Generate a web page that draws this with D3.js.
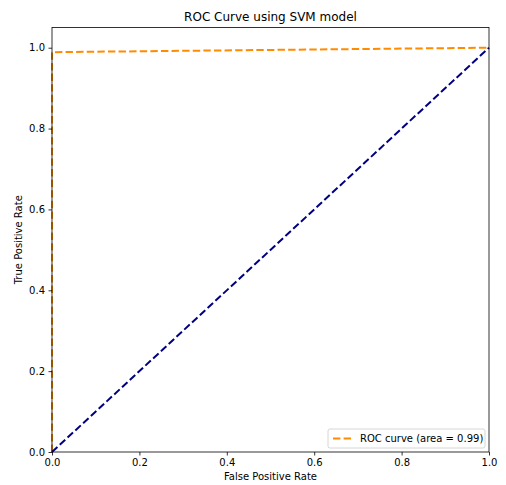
<!DOCTYPE html>
<html><head><meta charset="utf-8">
<script src="https://cdn.jsdelivr.net/npm/d3@7"></script>
<style>body{margin:0;background:#fff;} svg{display:block;font-family:"DejaVu Sans",sans-serif;}</style>
</head><body>
<script>
const fpr = [0, 0, 1];
const tpr = [0, 0.989, 1];
const diagX = [0, 1];
const diagY = [0, 1];
const ticks = [0, 0.2, 0.4, 0.6, 0.8, 1.0];
const aucLabel = "ROC curve (area = 0.99)";

const W = 506, H = 485;
const m = {l: 52, r: 17, t: 27.5, b: 33};
const svg = d3.select("body").append("svg").attr("width", W).attr("height", H);
const x = d3.scaleLinear().domain([0, 1]).range([m.l, W - m.r]);
const y = d3.scaleLinear().domain([0, 1.05]).range([H - m.b, m.t]);

const line = d3.line().x(d => x(d[0])).y(d => y(d[1]));
svg.append("path").datum(fpr.map((v, i) => [v, tpr[i]]))
  .attr("d", line).attr("fill", "none").attr("stroke", "#ff8c00")
  .attr("stroke-width", 2).attr("stroke-dasharray", "7.4,3.2");
svg.append("path").datum(diagX.map((v, i) => [v, diagY[i]]))
  .attr("d", line).attr("fill", "none").attr("stroke", "#000080")
  .attr("stroke-width", 2).attr("stroke-dasharray", "7.4,3.2");

const fmt = d3.format(".1f");
const xa = svg.append("g").attr("transform", `translate(0,${H - m.b})`)
  .call(d3.axisBottom(x).tickValues(ticks).tickFormat(fmt).tickSize(3.5).tickPadding(3.5));
const ya = svg.append("g").attr("transform", `translate(${m.l},0)`)
  .call(d3.axisLeft(y).tickValues(ticks).tickFormat(fmt).tickSize(3.5).tickPadding(3.5));
[xa, ya].forEach(a => {
  a.select(".domain").remove();
  a.selectAll("text").attr("font-size", 10).attr("fill", "#000").attr("font-family", "DejaVu Sans");
  a.selectAll("line").attr("stroke", "#000").attr("stroke-width", 0.8);
});

svg.append("rect").attr("x", m.l).attr("y", m.t).attr("width", W - m.r - m.l).attr("height", H - m.b - m.t)
  .attr("fill", "none").attr("stroke", "#000").attr("stroke-width", 0.8);

svg.append("text").attr("x", (m.l + W - m.r) / 2).attr("y", 21).attr("text-anchor", "middle")
  .attr("font-size", 12).text("ROC Curve using SVM model");
svg.append("text").attr("x", (m.l + W - m.r) / 2).attr("y", 480).attr("text-anchor", "middle")
  .attr("font-size", 10).text("False Positive Rate");
svg.append("text").attr("transform", `translate(22,${(m.t + H - m.b) / 2}) rotate(-90)`).attr("text-anchor", "middle")
  .attr("font-size", 10).text("True Positive Rate");

// legend
const lg = svg.append("g");
const lx = 328, ly = 429, lw = 157, lh = 19;
lg.append("rect").attr("x", lx).attr("y", ly).attr("width", lw).attr("height", lh)
  .attr("fill", "#fff").attr("fill-opacity", 0.8).attr("stroke", "#ccc").attr("stroke-width", 0.8).attr("rx", 2);
lg.append("line").attr("x1", lx + 5).attr("x2", lx + 25).attr("y1", ly + lh / 2).attr("y2", ly + lh / 2)
  .attr("stroke", "#ff8c00").attr("stroke-width", 2).attr("stroke-dasharray", "7.4,3.2");
lg.append("text").attr("x", lx + 32).attr("y", ly + lh / 2 + 3.5).attr("font-size", 10).text(aucLabel);
</script>
</body></html>
